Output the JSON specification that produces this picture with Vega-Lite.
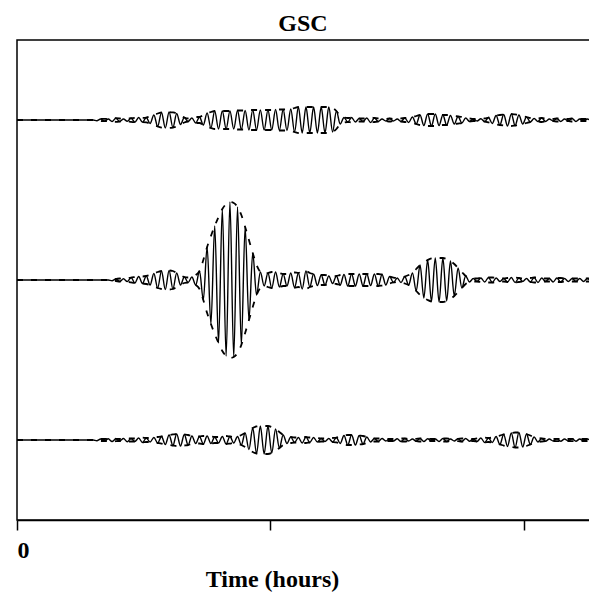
{
"$schema":"https://vega.github.io/schema/vega-lite/v6.json",
"width":574,"height":480,
"autosize":{"type":"none"},
"padding":{"left":17,"top":40,"right":0,"bottom":78},
"background":"white",
"config":{"view":{"stroke":"black","strokeWidth":1.5},"font":"Liberation Serif"},
"title":{"text":"GSC","font":"Liberation Serif","fontSize":24,"fontWeight":"bold","color":"black","anchor":"middle","baseline":"alphabetic","offset":10,"dy":25,"dx":-1},
"data":{"values":[
{"x":0,"a":5,"a1":5,"a2":5,"b":3,"b1":3,"b2":3,"c":1,"c1":1,"c2":1},
{"x":7.5,"a":5,"a1":5,"a2":5,"b":3,"b1":3,"b2":3,"c":1,"c1":1,"c2":1},
{"x":7.875,"a":4.99,"a1":5.01,"a2":4.99,"b":3,"b1":3,"b2":3,"c":0.99,"c1":1.01,"c2":0.99},
{"x":8.25,"a":5.0125,"a1":5.0125,"a2":4.9875,"b":3,"b1":3,"b2":3,"c":1.0125,"c1":1.0125,"c2":0.9875},
{"x":8.625,"a":4.985,"a1":5.015,"a2":4.985,"b":3,"b1":3,"b2":3,"c":0.9875,"c1":1.0125,"c2":0.9875},
{"x":9,"a":5.0125,"a1":5.0125,"a2":4.9875,"b":3,"b1":3,"b2":3,"c":1.015,"c1":1.015,"c2":0.985},
{"x":9.375,"a":4.981,"a1":5.019,"a2":4.981,"b":2.99,"b1":3.01,"b2":2.99,"c":0.981,"c1":1.019,"c2":0.981},
{"x":9.75,"a":5.0225,"a1":5.0225,"a2":4.9775,"b":3.0125,"b1":3.0125,"b2":2.9875,"c":1.015,"c1":1.015,"c2":0.985},
{"x":10.125,"a":4.981,"a1":5.019,"a2":4.981,"b":2.981,"b1":3.019,"b2":2.981,"c":0.9875,"c1":1.0125,"c2":0.9875},
{"x":10.5,"a":5.0125,"a1":5.0125,"a2":4.9875,"b":3.015,"b1":3.015,"b2":2.985,"c":1.019,"c1":1.019,"c2":0.981},
{"x":10.875,"a":4.985,"a1":5.015,"a2":4.985,"b":2.981,"b1":3.019,"b2":2.981,"c":0.9775,"c1":1.0225,"c2":0.9775},
{"x":11.25,"a":5.0225,"a1":5.0225,"a2":4.9775,"b":3.031,"b1":3.031,"b2":2.969,"c":1.019,"c1":1.019,"c2":0.981},
{"x":11.625,"a":4.9725,"a1":5.0275,"a2":4.9725,"b":2.9625,"b1":3.0375,"b2":2.9625,"c":0.981,"c1":1.019,"c2":0.981},
{"x":12,"a":5.031,"a1":5.031,"a2":4.969,"b":3.044,"b1":3.044,"b2":2.956,"c":1.025,"c1":1.025,"c2":0.975},
{"x":12.375,"a":4.9725,"a1":5.0275,"a2":4.9725,"b":2.956,"b1":3.044,"b2":2.956,"c":0.969,"c1":1.031,"c2":0.969},
{"x":12.75,"a":5.031,"a1":5.031,"a2":4.969,"b":3.05,"b1":3.05,"b2":2.95,"c":1.025,"c1":1.025,"c2":0.975},
{"x":13.125,"a":4.956,"a1":5.044,"a2":4.956,"b":2.9375,"b1":3.0625,"b2":2.9375,"c":0.975,"c1":1.025,"c2":0.975},
{"x":13.5,"a":5.0625,"a1":5.0625,"a2":4.9375,"b":3.081,"b1":3.081,"b2":2.919,"c":1.031,"c1":1.031,"c2":0.969},
{"x":13.875,"a":4.919,"a1":5.081,"a2":4.919,"b":2.9,"b1":3.1,"b2":2.9,"c":0.9625,"c1":1.0375,"c2":0.9625},
{"x":14.25,"a":5.094,"a1":5.094,"a2":4.906,"b":3.1125,"b1":3.1125,"b2":2.8875,"c":1.044,"c1":1.044,"c2":0.956},
{"x":14.625,"a":4.9,"a1":5.1,"a2":4.9,"b":2.881,"b1":3.119,"b2":2.881,"c":0.944,"c1":1.056,"c2":0.944},
{"x":15,"a":5.1,"a1":5.1,"a2":4.9,"b":3.119,"b1":3.119,"b2":2.881,"c":1.0625,"c1":1.0625,"c2":0.9375},
{"x":15.375,"a":4.906,"a1":5.094,"a2":4.906,"b":2.8875,"b1":3.1125,"b2":2.8875,"c":0.931,"c1":1.069,"c2":0.931},
{"x":15.75,"a":5.081,"a1":5.081,"a2":4.919,"b":3.0875,"b1":3.0875,"b2":2.9125,"c":1.075,"c1":1.075,"c2":0.925},
{"x":16.125,"a":4.944,"a1":5.056,"a2":4.944,"b":2.9375,"b1":3.0625,"b2":2.9375,"c":0.925,"c1":1.075,"c2":0.925},
{"x":16.5,"a":5.031,"a1":5.031,"a2":4.969,"b":3.0375,"b1":3.0375,"b2":2.9625,"c":1.069,"c1":1.069,"c2":0.931},
{"x":16.875,"a":4.981,"a1":5.019,"a2":4.981,"b":2.969,"b1":3.031,"b2":2.969,"c":0.9375,"c1":1.0625,"c2":0.9375},
{"x":17.25,"a":5.025,"a1":5.025,"a2":4.975,"b":3.0375,"b1":3.0375,"b2":2.9625,"c":1.05,"c1":1.05,"c2":0.95},
{"x":17.625,"a":4.9625,"a1":5.0375,"a2":4.9625,"b":2.9375,"b1":3.0625,"b2":2.9375,"c":0.956,"c1":1.044,"c2":0.956},
{"x":18,"a":5.0375,"a1":5.0375,"a2":4.9625,"b":3.1125,"b1":3.1125,"b2":2.8875,"c":1.044,"c1":1.044,"c2":0.956},
{"x":18.375,"a":4.9375,"a1":5.0625,"a2":4.9375,"b":2.75,"b1":3.25,"b2":2.75,"c":0.95,"c1":1.05,"c2":0.95},
{"x":18.75,"a":5.0875,"a1":5.0875,"a2":4.9125,"b":3.4125,"b1":3.4125,"b2":2.5875,"c":1.05,"c1":1.05,"c2":0.95},
{"x":19.125,"a":4.9,"a1":5.1,"a2":4.9,"b":2.45,"b1":3.55,"b2":2.45,"c":0.956,"c1":1.044,"c2":0.956},
{"x":19.5,"a":5.1125,"a1":5.1125,"a2":4.8875,"b":3.675,"b1":3.675,"b2":2.325,"c":1.0375,"c1":1.0375,"c2":0.9625},
{"x":19.875,"a":4.8875,"a1":5.1125,"a2":4.8875,"b":2.2125,"b1":3.7875,"b2":2.2125,"c":0.9625,"c1":1.0375,"c2":0.9625},
{"x":20.25,"a":5.1125,"a1":5.1125,"a2":4.8875,"b":3.8875,"b1":3.8875,"b2":2.1125,"c":1.044,"c1":1.044,"c2":0.956},
{"x":20.625,"a":4.8875,"a1":5.1125,"a2":4.8875,"b":2.05,"b1":3.95,"b2":2.05,"c":0.95,"c1":1.05,"c2":0.95},
{"x":21,"a":5.1125,"a1":5.1125,"a2":4.8875,"b":3.975,"b1":3.975,"b2":2.025,"c":1.044,"c1":1.044,"c2":0.956},
{"x":21.375,"a":4.8875,"a1":5.1125,"a2":4.8875,"b":2.0375,"b1":3.9625,"b2":2.0375,"c":0.9625,"c1":1.0375,"c2":0.9625},
{"x":21.75,"a":5.119,"a1":5.119,"a2":4.881,"b":3.9125,"b1":3.9125,"b2":2.0875,"c":1.044,"c1":1.044,"c2":0.956},
{"x":22.125,"a":4.881,"a1":5.119,"a2":4.881,"b":2.1875,"b1":3.8125,"b2":2.1875,"c":0.9375,"c1":1.0625,"c2":0.9375},
{"x":22.5,"a":5.119,"a1":5.119,"a2":4.881,"b":3.6625,"b1":3.6625,"b2":2.3375,"c":1.0875,"c1":1.0875,"c2":0.9125},
{"x":22.875,"a":4.875,"a1":5.125,"a2":4.875,"b":2.5,"b1":3.5,"b2":2.5,"c":0.881,"c1":1.119,"c2":0.881},
{"x":23.25,"a":5.125,"a1":5.125,"a2":4.875,"b":3.3375,"b1":3.3375,"b2":2.6625,"c":1.15,"c1":1.15,"c2":0.85},
{"x":23.625,"a":4.875,"a1":5.125,"a2":4.875,"b":2.8125,"b1":3.1875,"b2":2.8125,"c":0.831,"c1":1.169,"c2":0.831},
{"x":24,"a":5.125,"a1":5.125,"a2":4.875,"b":3.1,"b1":3.1,"b2":2.9,"c":1.175,"c1":1.175,"c2":0.825},
{"x":24.375,"a":4.875,"a1":5.125,"a2":4.875,"b":2.925,"b1":3.075,"b2":2.925,"c":0.825,"c1":1.175,"c2":0.825},
{"x":24.75,"a":5.125,"a1":5.125,"a2":4.875,"b":3.0875,"b1":3.0875,"b2":2.9125,"c":1.175,"c1":1.175,"c2":0.825},
{"x":25.125,"a":4.875,"a1":5.125,"a2":4.875,"b":2.9,"b1":3.1,"b2":2.9,"c":0.8375,"c1":1.1625,"c2":0.8375},
{"x":25.5,"a":5.131,"a1":5.131,"a2":4.869,"b":3.1,"b1":3.1,"b2":2.9,"c":1.1375,"c1":1.1375,"c2":0.8625},
{"x":25.875,"a":4.869,"a1":5.131,"a2":4.869,"b":2.9125,"b1":3.0875,"b2":2.9125,"c":0.9,"c1":1.1,"c2":0.9},
{"x":26.25,"a":5.131,"a1":5.131,"a2":4.869,"b":3.075,"b1":3.075,"b2":2.925,"c":1.0625,"c1":1.0625,"c2":0.9375},
{"x":26.625,"a":4.869,"a1":5.131,"a2":4.869,"b":2.925,"b1":3.075,"b2":2.925,"c":0.956,"c1":1.044,"c2":0.956},
{"x":27,"a":5.1375,"a1":5.1375,"a2":4.8625,"b":3.0875,"b1":3.0875,"b2":2.9125,"c":1.0375,"c1":1.0375,"c2":0.9625},
{"x":27.375,"a":4.85,"a1":5.15,"a2":4.85,"b":2.906,"b1":3.094,"b2":2.906,"c":0.969,"c1":1.031,"c2":0.969},
{"x":27.75,"a":5.1625,"a1":5.1625,"a2":4.8375,"b":3.0875,"b1":3.0875,"b2":2.9125,"c":1.031,"c1":1.031,"c2":0.969},
{"x":28.125,"a":4.8375,"a1":5.1625,"a2":4.8375,"b":2.8875,"b1":3.1125,"b2":2.8875,"c":0.9625,"c1":1.0375,"c2":0.9625},
{"x":28.5,"a":5.1625,"a1":5.1625,"a2":4.8375,"b":3.1125,"b1":3.1125,"b2":2.8875,"c":1.0375,"c1":1.0375,"c2":0.9625},
{"x":28.875,"a":4.8375,"a1":5.1625,"a2":4.8375,"b":2.9125,"b1":3.0875,"b2":2.9125,"c":0.969,"c1":1.031,"c2":0.969},
{"x":29.25,"a":5.1625,"a1":5.1625,"a2":4.8375,"b":3.075,"b1":3.075,"b2":2.925,"c":1.031,"c1":1.031,"c2":0.969},
{"x":29.625,"a":4.8375,"a1":5.1625,"a2":4.8375,"b":2.931,"b1":3.069,"b2":2.931,"c":0.975,"c1":1.025,"c2":0.975},
{"x":30,"a":5.1625,"a1":5.1625,"a2":4.8375,"b":3.0625,"b1":3.0625,"b2":2.9375,"c":1.019,"c1":1.019,"c2":0.981},
{"x":30.375,"a":4.8375,"a1":5.1625,"a2":4.8375,"b":2.9375,"b1":3.0625,"b2":2.9375,"c":0.981,"c1":1.019,"c2":0.981},
{"x":30.75,"a":5.1625,"a1":5.1625,"a2":4.8375,"b":3.05,"b1":3.05,"b2":2.95,"c":1.019,"c1":1.019,"c2":0.981},
{"x":31.125,"a":4.85,"a1":5.15,"a2":4.85,"b":2.956,"b1":3.044,"b2":2.956,"c":0.975,"c1":1.025,"c2":0.975},
{"x":31.5,"a":5.1125,"a1":5.1125,"a2":4.8875,"b":3.05,"b1":3.05,"b2":2.95,"c":1.031,"c1":1.031,"c2":0.969},
{"x":31.875,"a":4.95,"a1":5.05,"a2":4.95,"b":2.9375,"b1":3.0625,"b2":2.9375,"c":0.956,"c1":1.044,"c2":0.956},
{"x":32.25,"a":5.031,"a1":5.031,"a2":4.969,"b":3.069,"b1":3.069,"b2":2.931,"c":1.056,"c1":1.056,"c2":0.944},
{"x":32.625,"a":4.975,"a1":5.025,"a2":4.975,"b":2.925,"b1":3.075,"b2":2.925,"c":0.9375,"c1":1.0625,"c2":0.9375},
{"x":33,"a":5.031,"a1":5.031,"a2":4.969,"b":3.075,"b1":3.075,"b2":2.925,"c":1.0625,"c1":1.0625,"c2":0.9375},
{"x":33.375,"a":4.975,"a1":5.025,"a2":4.975,"b":2.925,"b1":3.075,"b2":2.925,"c":0.9375,"c1":1.0625,"c2":0.9375},
{"x":33.75,"a":5.019,"a1":5.019,"a2":4.981,"b":3.075,"b1":3.075,"b2":2.925,"c":1.056,"c1":1.056,"c2":0.944},
{"x":34.125,"a":4.981,"a1":5.019,"a2":4.981,"b":2.925,"b1":3.075,"b2":2.925,"c":0.95,"c1":1.05,"c2":0.95},
{"x":34.5,"a":5.025,"a1":5.025,"a2":4.975,"b":3.075,"b1":3.075,"b2":2.925,"c":1.0375,"c1":1.0375,"c2":0.9625},
{"x":34.875,"a":4.969,"a1":5.031,"a2":4.969,"b":2.931,"b1":3.069,"b2":2.931,"c":0.975,"c1":1.025,"c2":0.975},
{"x":35.25,"a":5.025,"a1":5.025,"a2":4.975,"b":3.075,"b1":3.075,"b2":2.925,"c":1.019,"c1":1.019,"c2":0.981},
{"x":35.625,"a":4.981,"a1":5.019,"a2":4.981,"b":2.925,"b1":3.075,"b2":2.925,"c":0.981,"c1":1.019,"c2":0.981},
{"x":36,"a":5.0125,"a1":5.0125,"a2":4.9875,"b":3.069,"b1":3.069,"b2":2.931,"c":1.019,"c1":1.019,"c2":0.981},
{"x":36.375,"a":4.9875,"a1":5.0125,"a2":4.9875,"b":2.9375,"b1":3.0625,"b2":2.9375,"c":0.9875,"c1":1.0125,"c2":0.9875},
{"x":36.75,"a":5.019,"a1":5.019,"a2":4.981,"b":3.044,"b1":3.044,"b2":2.956,"c":1.0125,"c1":1.0125,"c2":0.9875},
{"x":37.125,"a":4.9875,"a1":5.0125,"a2":4.9875,"b":2.969,"b1":3.031,"b2":2.969,"c":0.9875,"c1":1.0125,"c2":0.9875},
{"x":37.5,"a":5.0125,"a1":5.0125,"a2":4.9875,"b":3.025,"b1":3.025,"b2":2.975,"c":1.015,"c1":1.015,"c2":0.985},
{"x":37.875,"a":4.981,"a1":5.019,"a2":4.981,"b":2.969,"b1":3.031,"b2":2.969,"c":0.981,"c1":1.019,"c2":0.981},
{"x":38.25,"a":5.025,"a1":5.025,"a2":4.975,"b":3.044,"b1":3.044,"b2":2.956,"c":1.019,"c1":1.019,"c2":0.981},
{"x":38.625,"a":4.969,"a1":5.031,"a2":4.969,"b":2.9375,"b1":3.0625,"b2":2.9375,"c":0.9875,"c1":1.0125,"c2":0.9875},
{"x":39,"a":5.0375,"a1":5.0375,"a2":4.9625,"b":3.0875,"b1":3.0875,"b2":2.9125,"c":1.0125,"c1":1.0125,"c2":0.9875},
{"x":39.375,"a":4.95,"a1":5.05,"a2":4.95,"b":2.8625,"b1":3.1375,"b2":2.8625,"c":0.985,"c1":1.015,"c2":0.985},
{"x":39.75,"a":5.0625,"a1":5.0625,"a2":4.9375,"b":3.1875,"b1":3.1875,"b2":2.8125,"c":1.019,"c1":1.019,"c2":0.981},
{"x":40.125,"a":4.931,"a1":5.069,"a2":4.931,"b":2.775,"b1":3.225,"b2":2.775,"c":0.981,"c1":1.019,"c2":0.981},
{"x":40.5,"a":5.075,"a1":5.075,"a2":4.925,"b":3.25,"b1":3.25,"b2":2.75,"c":1.015,"c1":1.015,"c2":0.985},
{"x":40.875,"a":4.925,"a1":5.075,"a2":4.925,"b":2.731,"b1":3.269,"b2":2.731,"c":0.9875,"c1":1.0125,"c2":0.9875},
{"x":41.25,"a":5.075,"a1":5.075,"a2":4.925,"b":3.275,"b1":3.275,"b2":2.725,"c":1.0125,"c1":1.0125,"c2":0.9875},
{"x":41.625,"a":4.931,"a1":5.069,"a2":4.931,"b":2.725,"b1":3.275,"b2":2.725,"c":0.981,"c1":1.019,"c2":0.981},
{"x":42,"a":5.0625,"a1":5.0625,"a2":4.9375,"b":3.275,"b1":3.275,"b2":2.725,"c":1.019,"c1":1.019,"c2":0.981},
{"x":42.375,"a":4.9375,"a1":5.0625,"a2":4.9375,"b":2.7375,"b1":3.2625,"b2":2.7375,"c":0.981,"c1":1.019,"c2":0.981},
{"x":42.75,"a":5.056,"a1":5.056,"a2":4.944,"b":3.2375,"b1":3.2375,"b2":2.7625,"c":1.0125,"c1":1.0125,"c2":0.9875},
{"x":43.125,"a":4.95,"a1":5.05,"a2":4.95,"b":2.8,"b1":3.2,"b2":2.8,"c":0.9875,"c1":1.0125,"c2":0.9875},
{"x":43.5,"a":5.044,"a1":5.044,"a2":4.956,"b":3.15,"b1":3.15,"b2":2.85,"c":1.015,"c1":1.015,"c2":0.985},
{"x":43.875,"a":4.9625,"a1":5.0375,"a2":4.9625,"b":2.9,"b1":3.1,"b2":2.9,"c":0.981,"c1":1.019,"c2":0.981},
{"x":44.25,"a":5.025,"a1":5.025,"a2":4.975,"b":3.05,"b1":3.05,"b2":2.95,"c":1.019,"c1":1.019,"c2":0.981},
{"x":44.625,"a":4.981,"a1":5.019,"a2":4.981,"b":2.975,"b1":3.025,"b2":2.975,"c":0.985,"c1":1.015,"c2":0.985},
{"x":45,"a":5.0125,"a1":5.0125,"a2":4.9875,"b":3.019,"b1":3.019,"b2":2.981,"c":1.0125,"c1":1.0125,"c2":0.9875},
{"x":45.375,"a":4.9875,"a1":5.0125,"a2":4.9875,"b":2.981,"b1":3.019,"b2":2.981,"c":0.981,"c1":1.019,"c2":0.981},
{"x":45.75,"a":5.015,"a1":5.015,"a2":4.985,"b":3.025,"b1":3.025,"b2":2.975,"c":1.025,"c1":1.025,"c2":0.975},
{"x":46.125,"a":4.981,"a1":5.019,"a2":4.981,"b":2.975,"b1":3.025,"b2":2.975,"c":0.969,"c1":1.031,"c2":0.969},
{"x":46.5,"a":5.031,"a1":5.031,"a2":4.969,"b":3.031,"b1":3.031,"b2":2.969,"c":1.025,"c1":1.025,"c2":0.975},
{"x":46.875,"a":4.956,"a1":5.044,"a2":4.956,"b":2.969,"b1":3.031,"b2":2.969,"c":0.969,"c1":1.031,"c2":0.969},
{"x":47.25,"a":5.056,"a1":5.056,"a2":4.944,"b":3.025,"b1":3.025,"b2":2.975,"c":1.044,"c1":1.044,"c2":0.956},
{"x":47.625,"a":4.9375,"a1":5.0625,"a2":4.9375,"b":2.981,"b1":3.019,"b2":2.981,"c":0.944,"c1":1.056,"c2":0.944},
{"x":48,"a":5.069,"a1":5.069,"a2":4.931,"b":3.019,"b1":3.019,"b2":2.981,"c":1.069,"c1":1.069,"c2":0.931},
{"x":48.375,"a":4.925,"a1":5.075,"a2":4.925,"b":2.975,"b1":3.025,"b2":2.975,"c":0.919,"c1":1.081,"c2":0.919},
{"x":48.75,"a":5.075,"a1":5.075,"a2":4.925,"b":3.031,"b1":3.031,"b2":2.969,"c":1.0875,"c1":1.0875,"c2":0.9125},
{"x":49.125,"a":4.931,"a1":5.069,"a2":4.931,"b":2.969,"b1":3.031,"b2":2.969,"c":0.906,"c1":1.094,"c2":0.906},
{"x":49.5,"a":5.0625,"a1":5.0625,"a2":4.9375,"b":3.025,"b1":3.025,"b2":2.975,"c":1.094,"c1":1.094,"c2":0.906},
{"x":49.875,"a":4.95,"a1":5.05,"a2":4.95,"b":2.981,"b1":3.019,"b2":2.981,"c":0.9125,"c1":1.0875,"c2":0.9125},
{"x":50.25,"a":5.0375,"a1":5.0375,"a2":4.9625,"b":3.019,"b1":3.019,"b2":2.981,"c":1.075,"c1":1.075,"c2":0.925},
{"x":50.625,"a":4.975,"a1":5.025,"a2":4.975,"b":2.975,"b1":3.025,"b2":2.975,"c":0.944,"c1":1.056,"c2":0.944},
{"x":51,"a":5.019,"a1":5.019,"a2":4.981,"b":3.031,"b1":3.031,"b2":2.969,"c":1.0375,"c1":1.0375,"c2":0.9625},
{"x":51.375,"a":4.981,"a1":5.019,"a2":4.981,"b":2.969,"b1":3.031,"b2":2.969,"c":0.975,"c1":1.025,"c2":0.975},
{"x":51.75,"a":5.025,"a1":5.025,"a2":4.975,"b":3.025,"b1":3.025,"b2":2.975,"c":1.019,"c1":1.019,"c2":0.981},
{"x":52.125,"a":4.981,"a1":5.019,"a2":4.981,"b":2.981,"b1":3.019,"b2":2.981,"c":0.985,"c1":1.015,"c2":0.985},
{"x":52.5,"a":5.0125,"a1":5.0125,"a2":4.9875,"b":3.019,"b1":3.019,"b2":2.981,"c":1.0125,"c1":1.0125,"c2":0.9875},
{"x":52.875,"a":4.9875,"a1":5.0125,"a2":4.9875,"b":2.975,"b1":3.025,"b2":2.975,"c":0.9875,"c1":1.0125,"c2":0.9875},
{"x":53.25,"a":5.019,"a1":5.019,"a2":4.981,"b":3.025,"b1":3.025,"b2":2.975,"c":1.015,"c1":1.015,"c2":0.985},
{"x":53.625,"a":4.981,"a1":5.019,"a2":4.981,"b":2.975,"b1":3.025,"b2":2.975,"c":0.985,"c1":1.015,"c2":0.985},
{"x":54,"a":5.0125,"a1":5.0125,"a2":4.9875,"b":3.019,"b1":3.019,"b2":2.981,"c":1.0125,"c1":1.0125,"c2":0.9875},
{"x":54.375,"a":4.9875,"a1":5.0125,"a2":4.9875,"b":2.981,"b1":3.019,"b2":2.981,"c":0.9875,"c1":1.0125,"c2":0.9875},
{"x":54.75,"a":5.019,"a1":5.019,"a2":4.981,"b":3.019,"b1":3.019,"b2":2.981,"c":1.015,"c1":1.015,"c2":0.985},
{"x":55.125,"a":4.981,"a1":5.019,"a2":4.981,"b":2.981,"b1":3.019,"b2":2.981,"c":0.985,"c1":1.015,"c2":0.985},
{"x":55.5,"a":5.0125,"a1":5.0125,"a2":4.9875,"b":3.019,"b1":3.019,"b2":2.981,"c":1.0125,"c1":1.0125,"c2":0.9875},
{"x":55.875,"a":4.9875,"a1":5.0125,"a2":4.9875,"b":2.981,"b1":3.019,"b2":2.981,"c":0.9875,"c1":1.0125,"c2":0.9875},
{"x":56.25,"a":5.0125,"a1":5.0125,"a2":4.9875,"b":3.019,"b1":3.019,"b2":2.981,"c":1.0125,"c1":1.0125,"c2":0.9875},
{"x":56.625,"a":4.9875,"a1":5.0125,"a2":4.9875,"b":2.981,"b1":3.019,"b2":2.981,"c":0.9875,"c1":1.0125,"c2":0.9875}
]},
"encoding":{
"x":{"field":"x","type":"quantitative","scale":{"domain":[0,56.61],"nice":false,"zero":false},
"axis":{"values":[0,25,50],"labelExpr":"datum.value == 0 ? '0' : ''","labelOverlap":false,"title":"Time (hours)","grid":false,"domain":true,"domainColor":"black","domainWidth":1.5,"tickColor":"black","tickWidth":1.5,"tickSize":10,"labelFont":"Liberation Serif","labelFontWeight":"bold","labelFontSize":24,"labelColor":"black","labelBaseline":"alphabetic","labelPadding":27,"titleFont":"Liberation Serif","titleFontWeight":"bold","titleFontSize":24,"titleColor":"black","titleX":255,"titleY":66,"titleBaseline":"alphabetic","titleAlign":"center","titleAnchor":null}}
},
"layer":[
{"mark":{"type":"line","stroke":"black","strokeWidth":1.8,"strokeDash":[6,8],"interpolate":"monotone","clip":true},"encoding":{"y":{"field":"a1","type":"quantitative","scale":{"domain":[0,6],"nice":false,"zero":false},"axis":null}}},
{"mark":{"type":"line","stroke":"black","strokeWidth":1.8,"strokeDash":[6,8],"interpolate":"monotone","clip":true},"encoding":{"y":{"field":"a2","type":"quantitative"}}},
{"mark":{"type":"line","stroke":"black","strokeWidth":1.8,"strokeDash":[6,8],"interpolate":"monotone","clip":true},"encoding":{"y":{"field":"b1","type":"quantitative"}}},
{"mark":{"type":"line","stroke":"black","strokeWidth":1.8,"strokeDash":[6,8],"interpolate":"monotone","clip":true},"encoding":{"y":{"field":"b2","type":"quantitative"}}},
{"mark":{"type":"line","stroke":"black","strokeWidth":1.8,"strokeDash":[6,8],"interpolate":"monotone","clip":true},"encoding":{"y":{"field":"c1","type":"quantitative"}}},
{"mark":{"type":"line","stroke":"black","strokeWidth":1.8,"strokeDash":[6,8],"interpolate":"monotone","clip":true},"encoding":{"y":{"field":"c2","type":"quantitative"}}},
{"mark":{"type":"line","stroke":"black","strokeWidth":1.4,"interpolate":"monotone","clip":true},"encoding":{"y":{"field":"a","type":"quantitative"}}},
{"mark":{"type":"line","stroke":"black","strokeWidth":1.4,"interpolate":"monotone","clip":true},"encoding":{"y":{"field":"b","type":"quantitative"}}},
{"mark":{"type":"line","stroke":"black","strokeWidth":1.4,"interpolate":"monotone","clip":true},"encoding":{"y":{"field":"c","type":"quantitative"}}}
]
}
